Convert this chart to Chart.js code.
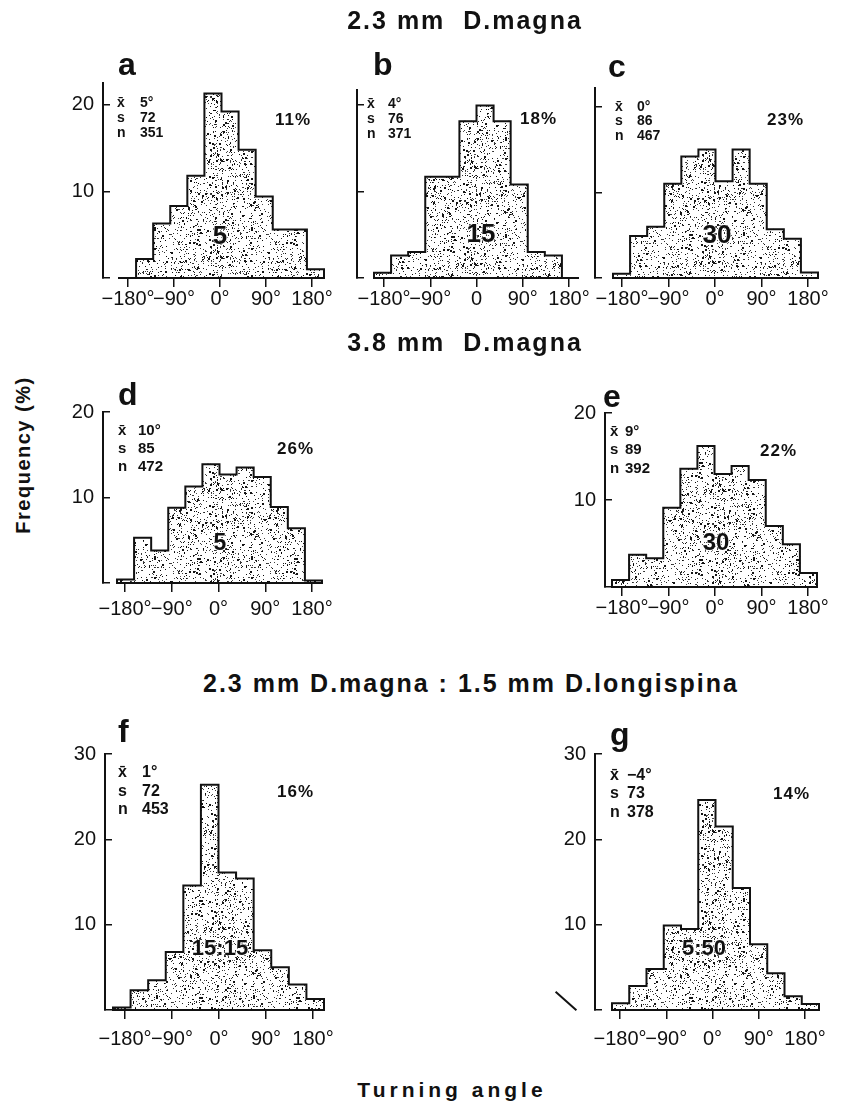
<!DOCTYPE html>
<html>
<head>
<meta charset="utf-8">
<title>Turning angle histograms</title>
<script src="https://cdn.jsdelivr.net/npm/chart.js@4.4.1/dist/chart.umd.min.js"></script>
<style>
  html, body { margin: 0; padding: 0; background: #fff; }
  #fig { position: relative; width: 841px; height: 1105px; overflow: hidden;
         font-family: "Liberation Sans", Arial, sans-serif; color: #111; }
  #fig canvas { position: absolute; }
  .t { position: absolute; line-height: 1; white-space: pre; font-weight: bold; }
</style>
</head>
<body>
<div id="fig"></div>
<script>
// 30 degree bins, left edges
const bins = [-180, -150, -120, -90, -60, -30, 0, 30, 60, 90, 120, 150];
const binWidth = 30;

// frequency (%) per bin
const freqA = [0, 2.2, 6.3, 8.3, 11.8, 21.3, 19.2, 14.8, 9.4, 5.6, 5.6, 1.0];
const freqB = [0.6, 2.6, 3.0, 11.7, 11.7, 18.1, 19.9, 18.1, 10.8, 3.0, 2.6, 0];
const freqC = [0.5, 4.9, 6.0, 11.0, 14.2, 15.0, 11.3, 15.0, 11.0, 5.7, 4.6, 0.65];
const freqD = [0.4, 5.3, 3.8, 8.8, 11.3, 13.9, 12.7, 13.5, 12.4, 8.9, 6.4, 0.3];
const freqE = [0.8, 3.7, 3.3, 9.1, 13.6, 16.2, 13.0, 13.9, 12.3, 7.0, 4.9, 1.6];
const freqF = [0.3, 2.3, 3.5, 6.8, 14.6, 26.4, 16.1, 15.4, 7.0, 5.0, 3.0, 1.3];
const freqG = [0.8, 2.8, 4.8, 9.9, 9.5, 24.6, 21.5, 14.3, 7.7, 4.3, 1.6, 0.7];

// axis ticks
const tickValues = [-180, -90, 0, 90, 180];
const tickLabels = ['\u2212180\u00b0', '\u221290\u00b0', '0\u00b0', '90\u00b0', '180\u00b0'];
const tickLabelsB = ['\u2212180\u00b0', '\u221290\u00b0', '0', '90\u00b0', '180\u00b0'];
const yTicks20 = [0, 10, 20];
const yTicks30 = [0, 10, 20, 30];

// panel annotations
const panelNames = ['a', 'b', 'c', 'd', 'e', 'f', 'g'];
const means = ['5\u00b0', '4\u00b0', '0\u00b0', '10\u00b0', '9\u00b0', '1\u00b0', '\u22124\u00b0'];
const sds = ['72', '76', '86', '85', '89', '72', '73'];
const counts = ['351', '371', '467', '472', '392', '453', '378'];
const shares = ['11%', '18%', '23%', '26%', '22%', '16%', '14%'];
const densities = ['5', '15', '30', '5', '30', '15:15', '5:50'];

const series = [freqA, freqB, freqC, freqD, freqE, freqF, freqG];
const ink = '#111';
const fig = document.getElementById('fig');

// pixel layout of each panel
const boxes = [
  { axisX: 103, top: 83, base: 278, ymax: 22.5, binL: 119, binR: 324, tickL: 128, tickR: 312, labPad: 0, yLab: true, yt: yTicks20, xt: tickLabels,
    letter: [118, 75], stat: { x: 117, vx: 140, y: [107, 122, 137], size: 14 }, pct: [275, 125], mid: [220, 244, 26] },
  { axisX: 357, top: 90, base: 278, ymax: 21.7, binL: 374, binR: 579, tickL: 384, tickR: 569, labPad: 0, yLab: false, yt: yTicks20, xt: tickLabelsB,
    letter: [373, 75], stat: { x: 367, vx: 388, y: [108, 123, 138], size: 14 }, pct: [520, 124], mid: [481, 242, 26] },
  { axisX: 595, top: 88, base: 278, ymax: 22.2, binL: 613, binR: 818, tickL: 622, tickR: 808, labPad: 0, yLab: false, yt: yTicks20, xt: tickLabels,
    letter: [608, 77], stat: { x: 615, vx: 637, y: [111, 125, 140], size: 14 }, pct: [767, 125], mid: [717, 243, 26] },
  { axisX: 103, top: 412, base: 583, ymax: 20, binL: 117, binR: 322, tickL: 125, tickR: 312, labPad: 5, yLab: true, yt: yTicks20, xt: tickLabels,
    letter: [118, 405], stat: { x: 118, vx: 138, y: [435, 453, 471], size: 15 }, pct: [277, 454], mid: [220, 550, 23] },
  { axisX: 605, top: 413, base: 587, ymax: 20, binL: 612, binR: 817, tickL: 622, tickR: 808, labPad: 0, yLab: true, yt: yTicks20, xt: tickLabels,
    letter: [603, 407], stat: { x: 610, vx: 625, y: [436, 454, 473], size: 15 }, pct: [760, 456], mid: [716, 550, 24] },
  { axisX: 105, top: 754, base: 1010, ymax: 30, binL: 113, binR: 324, tickL: 125, tickR: 313, labPad: 8, yLab: true, yt: yTicks30, xt: tickLabels,
    letter: [118, 742], stat: { x: 118, vx: 142, y: [778, 797, 815], size: 16 }, pct: [277, 797], mid: [220, 956, 22] },
  { axisX: 595, top: 754, base: 1010, ymax: 30, binL: 612, binR: 819, tickL: 620, tickR: 805, labPad: 8, yLab: true, yt: yTicks30, xt: tickLabels,
    letter: [610, 745], stat: { x: 610, vx: 627, y: [781, 799, 818], size: 16 }, pct: [773, 799], mid: [704, 956, 22] }
];

// text placed by its baseline
function txt(s, x, base, size, o = {}) {
  const d = document.createElement('div');
  d.className = 't';
  d.textContent = s;
  d.style.fontSize = size + 'px';
  d.style.left = x + 'px';
  d.style.top = (base - 0.8465 * size) + 'px';
  if (o.center) d.style.transform = 'translateX(-50%)';
  if (o.spacing) d.style.letterSpacing = o.spacing + 'px';
  if (o.halo) d.style.textShadow = '0 0 3px #fff, 0 0 2px #fff, 0 0 1px #fff';
  fig.appendChild(d);
  return d;
}

// stippled fill (fixed seed, texture only)
function makeStipple() {
  const n = 97;
  const c = document.createElement('canvas');
  c.width = c.height = n;
  const g = c.getContext('2d');
  g.fillStyle = '#fff';
  g.fillRect(0, 0, n, n);
  let s = 2024;
  const rnd = () => (s = (s * 16807) % 2147483647) / 2147483647;
  for (let i = 0; i < 1000; i++) {
    const x = Math.floor(rnd() * n), y = Math.floor(rnd() * n);
    const shade = Math.floor(rnd() * 80);
    g.fillStyle = `rgb(${shade},${shade},${shade})`;
    g.fillRect(x, y, 1, 1);
  }
  g.fillStyle = '#141414';
  for (let i = 0; i < 95; i++) {
    const x = Math.floor(rnd() * n), y = Math.floor(rnd() * n);
    g.fillRect(x, y, 2, 2);
  }
  return g.createPattern(c, 'repeat');
}

function outline(freq) {
  const pts = [{ x: bins[0], y: 0 }];
  freq.forEach((v, i) => pts.push({ x: bins[i] + binWidth, y: v }));
  pts.push({ x: bins[bins.length - 1] + binWidth, y: 0 });
  pts.push({ x: bins[0], y: 0 });
  return pts;
}

Chart.defaults.font.family = '"Liberation Sans", Arial, sans-serif';
const stip = makeStipple();

boxes.forEach((b, i) => {
  const freq = series[i];
  const W = 50, H = 50, padT = 14, padR = 36;
  const areaR = b.binR + 8;
  const cw = W + (areaR - b.axisX) + padR;
  const ch = padT + (b.base - b.top) + H;
  const cv = document.createElement('canvas');
  cv.width = cw; cv.height = ch;
  cv.style.left = (b.axisX - W) + 'px';
  cv.style.top = (b.top - padT) + 'px';
  cv.style.width = cw + 'px';
  cv.style.height = ch + 'px';
  fig.appendChild(cv);

  const k = (b.binR - b.binL) / 360;
  const kt = (b.tickR - b.tickL) / 360;

  new Chart(cv, {
    type: 'bar',
    data: {
      datasets: [
        { type: 'line', data: outline(freq), stepped: 'after', borderColor: ink, borderWidth: 2,
          pointRadius: 0, fill: false, order: 0, clip: 6, borderJoinStyle: 'miter', borderCapStyle: 'square',
          xAxisID: 'x', yAxisID: 'y' },
        { type: 'bar', data: bins.map((v, j) => ({ x: v + binWidth / 2, y: freq[j] })),
          backgroundColor: stip, borderWidth: 0, barPercentage: 1, categoryPercentage: 1, order: 1,
          xAxisID: 'x', yAxisID: 'y' }
      ]
    },
    options: {
      responsive: false,
      animation: false,
      devicePixelRatio: 1,
      events: [],
      layout: { padding: { left: 0, top: padT, right: padR, bottom: 0 } },
      plugins: { legend: { display: false }, tooltip: { enabled: false } },
      scales: {
        x: { type: 'linear', display: false, offset: false,
             min: -180 - (b.binL - b.axisX) / k, max: 180 + (areaR - b.binR) / k },
        xt: { type: 'linear', position: 'bottom', offset: false,
              min: -180 - (b.tickL - b.axisX) / kt, max: 180 + (areaR - b.tickR) / kt,
              afterBuildTicks: s => { s.ticks = tickValues.map(v => ({ value: v })); },
              afterFit: s => { s.height = H; s.paddingLeft = 0; s.paddingRight = 0; },
              grid: { display: true, drawOnChartArea: false, drawTicks: true, tickLength: 9, color: ink, lineWidth: 1.5, offset: false },
              border: { display: false },
              ticks: { autoSkip: false, maxRotation: 0, minRotation: 0, padding: b.labPad, color: ink,
                       font: { size: 20 }, callback: (v, j) => b.xt[j] } },
        y: { type: 'linear', position: 'left', min: 0, max: b.ymax,
             afterBuildTicks: s => { s.ticks = b.yt.map(v => ({ value: v })); },
             afterFit: s => { s.width = W; s.paddingTop = 0; s.paddingBottom = 0; },
             grid: { drawOnChartArea: false, drawTicks: true, tickLength: -7, color: ink, lineWidth: 1.5 },
             border: { display: true, color: ink, width: 2 },
             ticks: { padding: 16, color: ink, font: { size: 20 },
                      callback: v => (b.yLab && v !== 0) ? String(v) : '' } }
      }
    }
  });

  // annotations
  txt(panelNames[i], b.letter[0], b.letter[1], 32);
  const st = b.stat;
  ['x\u0304', 's', 'n'].forEach((sym, r) => txt(sym, st.x, st.y[r], st.size));
  [means[i], sds[i], counts[i]].forEach((val, r) => txt(val, st.vx, st.y[r], st.size));
  txt(shares[i], b.pct[0], b.pct[1], 17, { spacing: 1 });
  txt(densities[i], b.mid[0], b.mid[1], b.mid[2], { center: true, halo: true });
});

// titles
txt('2.3 mm  D.magna', 465, 29, 25, { center: true, spacing: 2 });
txt('3.8 mm  D.magna', 465, 351, 25, { center: true, spacing: 2 });
txt('2.3 mm D.magna : 1.5 mm D.longispina', 471, 692, 25, { center: true, spacing: 2 });
txt('Turning angle', 452, 1097, 21, { center: true, spacing: 4 });

const yl = document.createElement('div');
yl.className = 't';
yl.textContent = 'Frequency (%)';
yl.style.fontSize = '20px';
yl.style.letterSpacing = '1.5px';
yl.style.left = '23px';
yl.style.top = '455px';
yl.style.transform = 'translate(-50%, -50%) rotate(-90deg)';
fig.appendChild(yl);

// scan mark near panel g
const mark = document.createElement('div');
mark.style.cssText = 'position:absolute;left:552px;top:1000px;width:28px;height:2px;background:#111;transform:rotate(42deg);';
fig.appendChild(mark);
</script>
</body>
</html>
